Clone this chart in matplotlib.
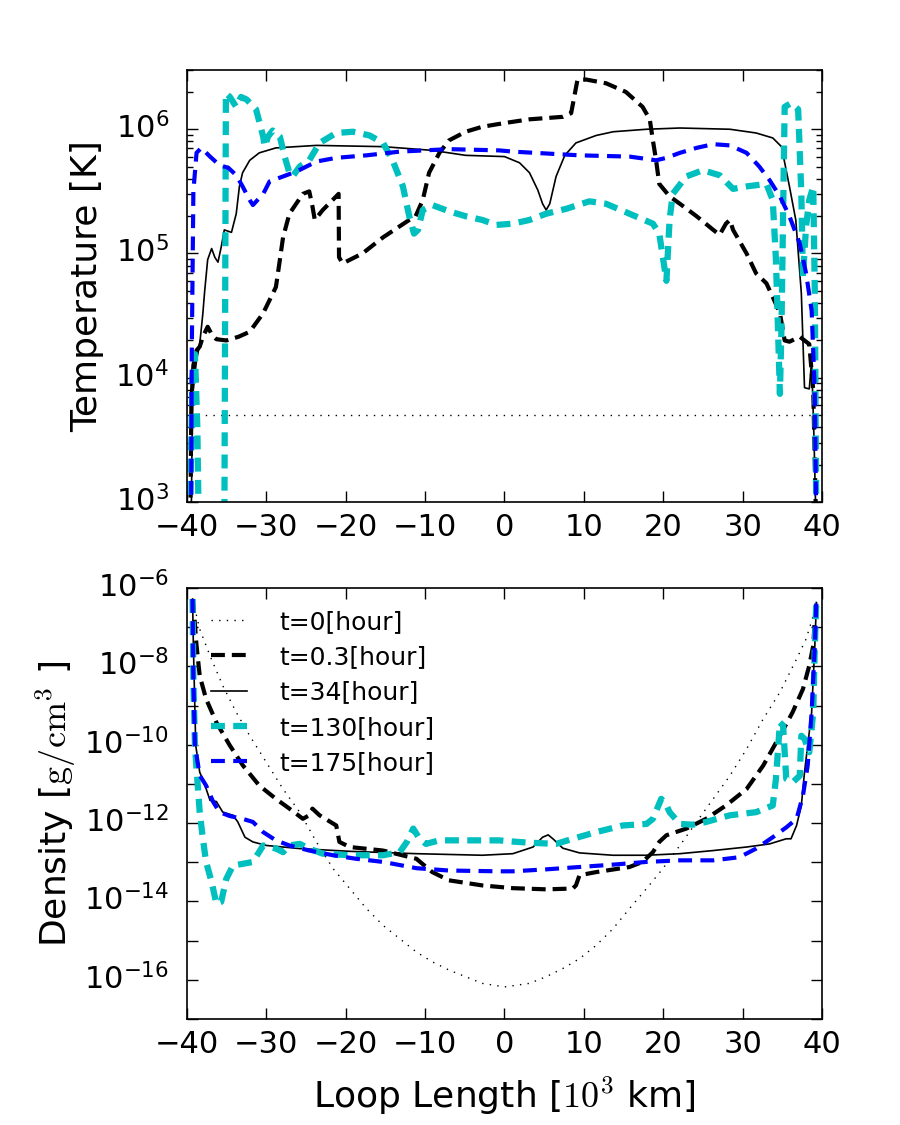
import matplotlib
matplotlib.use('Agg')
import matplotlib.pyplot as plt
import numpy as np
from matplotlib.ticker import FixedLocator, FuncFormatter, LogLocator, NullFormatter
from matplotlib.transforms import ScaledTranslation

plt.rcParams['font.family'] = ['DejaVu Sans']
plt.rcParams['mathtext.fontset'] = 'cm'
plt.rcParams['lines.scale_dashes'] = False

# temperature, log10(T [K]) vs loop position [10^3 km]
x_t0 = [-39.6, 39.6]
logT_t0 = [3.70, 3.70]

x_t03 = [-39.6, -39.45, -39.2, -38.8, -38.4, -38.0, -37.4, -36.8, -36.3, -35.05, -33.5, -32.1,
         -30.4, -28.8, -28.3, -27.9, -27.1, -25.4, -24.6, -24.2, -23.9, -22.9, -21.2, -20.9,
         -20.85, -20.4, -17.9, -15.3, -12.0, -11.2, -10.3, -9.5, -8.2, -7.0, -4.9, -2.8, 0.0,
         3.15, 7.35, 8.4, 9.2, 10.3, 12.8, 15.3, 17.4, 18.3, 18.7, 19.1, 19.5, 20.8, 22.1, 24.2,
         26.3, 27.1, 27.9, 28.4, 28.8, 30.5, 31.7, 33.0, 33.8, 34.7, 35.3, 35.9, 37.2, 37.8,
         38.4, 38.9, 39.3]
logT_t03 = [2.7, 3.8, 4.1, 4.22, 4.25, 4.33, 4.41, 4.34, 4.31, 4.30, 4.33, 4.37,
            4.52, 4.73, 4.95, 5.13, 5.32, 5.48, 5.50, 5.38, 5.27, 5.35, 5.46, 5.48,
            4.97, 4.92, 5.0, 5.13, 5.27, 5.30, 5.43, 5.65, 5.81, 5.91, 5.98, 6.02, 6.05,
            6.08, 6.10, 6.13, 6.40, 6.40, 6.37, 6.30, 6.18, 6.08, 5.91, 5.75, 5.56, 5.46, 5.40, 5.30,
            5.19, 5.15, 5.24, 5.27, 5.19, 5.0, 4.84, 4.76, 4.65, 4.52, 4.30, 4.29, 4.33, 4.30,
            4.27, 3.9, 2.7]

x_t34 = [-39.5, -39.3, -38.8, -38.4, -38.0, -37.8, -37.4, -36.9, -36.5, -36.1, -35.7, -35.3,
         -34.4, -33.8, -33.4, -33.0, -32.1, -30.9, -28.8, -23.7, -15.3, -9.1, -4.9, 0.0, 1.9,
         3.15, 4.2, 4.8, 5.25, 5.7, 6.5, 7.6, 9.0, 11.55, 13.7, 17.9, 22.1, 28.4, 31.7, 33.8,
         34.9, 35.9, 36.7, 37.4, 37.8, 38.4, 38.7, 39.0, 39.3]
logT_t34 = [2.7, 3.87, 4.14, 4.27, 4.52, 4.68, 4.95, 5.04, 4.97, 4.93, 5.05, 5.19,
            5.17, 5.32, 5.54, 5.65, 5.75, 5.81, 5.85, 5.87, 5.86, 5.83, 5.79, 5.78, 5.73,
            5.65, 5.51, 5.40, 5.35, 5.40, 5.62, 5.79, 5.89, 5.95, 5.98, 6.0, 6.01, 6.0, 5.97, 5.93,
            5.86, 5.54, 5.27, 4.68, 3.92, 3.91, 4.14, 3.5, 2.7]

x_t130 = [-39.7, -39.3, -39.0, -38.7, -38.5, -35.3, -35.1, -34.6, -33.8, -33.2, -32.5, -31.3,
          -30.4, -30.2, -29.8, -29.2, -28.3, -27.7, -27.1, -26.7, -25.8, -24.6, -23.3, -21.2,
          -19.1, -17.0, -15.3, -14.1, -12.8, -12.0, -11.4, -10.9, -10.3, -9.1, -7.0, -4.9, -2.8,
          -1.05, 1.05, 3.15, 5.25, 7.8, 10.7, 12.8, 15.75, 18.7, 19.5, 20.0, 20.4, 20.8, 21.2,
          22.9, 25.0, 27.1, 28.8, 30.5, 33.0, 33.8, 34.2, 34.7, 34.9, 35.2, 35.3, 36.1, 37.0,
          37.4, 37.6, 38.0, 38.4, 38.9, 39.1, 39.3]
logT_t130 = [2.7, 4.0, 4.19, 3.6, 2.7, 2.7, 6.29, 6.26, 6.18, 6.26, 6.24, 6.16,
             5.94, 5.86, 5.94, 5.99, 5.94, 5.78, 5.65, 5.62, 5.70, 5.75, 5.89, 5.97,
             5.98, 5.95, 5.89, 5.75, 5.54, 5.30, 5.16, 5.19, 5.35, 5.39, 5.34, 5.30, 5.27,
             5.23, 5.24, 5.27, 5.32, 5.36, 5.42, 5.40, 5.32, 5.24, 5.16, 4.95, 4.78, 5.27, 5.48,
             5.62, 5.67, 5.63, 5.52, 5.54, 5.56, 5.43, 4.95, 3.87, 4.41, 5.75, 6.18, 6.21, 6.16,
             5.48, 4.81, 5.22, 5.43, 5.54, 4.68, 2.7]

x_t175 = [-39.5, -39.4, -39.2, -38.8, -38.2, -37.1, -35.9, -34.8, -33.8, -33.0, -32.1, -31.7,
          -30.4, -29.6, -27.9, -26.2, -23.7, -21.2, -17.4, -13.2, -7.0, -0.7, 1.05, 9.45,
          15.75, 19.1, 20.4, 22.1, 24.2, 26.3, 28.4, 30.5, 32.1, 33.4, 34.7, 35.9, 37.2, 38.0,
          38.7, 39.1, 39.3]
logT_t175 = [2.7, 4.2, 5.5, 5.81, 5.85, 5.78, 5.71, 5.69, 5.63, 5.54, 5.43, 5.39,
             5.48, 5.58, 5.62, 5.66, 5.74, 5.77, 5.79, 5.82, 5.84, 5.83, 5.82, 5.79,
             5.78, 5.75, 5.77, 5.81, 5.85, 5.88, 5.87, 5.81, 5.70, 5.59, 5.46, 5.30, 5.08, 4.84,
             4.54, 3.87, 2.7]

# density, log10(rho [g/cm^3])
xd_t0 = [-39.3, -39.2, -38.4, -37.1, -35.5, -33.8, -32.1, -30.0, -27.9, -25.8, -23.7, -21.6,
         -19.5, -17.4, -15.3, -13.2, -11.1, -9.1, -7.0, -4.9, -2.8, 0.0, 3.15, 5.25, 7.35, 9.45,
         11.55, 13.65, 15.75, 17.9, 19.95, 22.1, 24.2, 26.3, 28.4, 30.5, 32.6, 34.7, 36.8, 38.0,
         38.9, 39.3]
logd_t0 = [-6.3, -6.37, -7.05, -7.73, -8.49, -9.17, -9.77, -10.45, -11.13, -11.72, -12.48, -13.16,
           -13.67, -14.18, -14.61, -14.95, -15.29, -15.54, -15.75, -15.92, -16.09, -16.18, -16.09,
           -15.92, -15.71, -15.46, -15.12, -14.70, -14.18, -13.67, -13.16, -12.57, -11.97, -11.38,
           -10.79, -10.11, -9.34, -8.66, -7.81, -7.30, -6.71, -6.37]

xd_t03 = [-39.25, -38.8, -38.4, -37.6, -36.3, -34.6, -32.95, -30.9, -28.8, -27.1, -25.4, -24.6,
          -24.2, -23.3, -21.2, -20.8, -19.5, -15.3, -11.1, -9.1, -7.0, -2.8, 1.05, 5.25, 8.6, 9.0,
          9.45, 11.55, 15.75, 17.4, 18.7, 19.5, 20.4, 22.9, 25.4, 27.9, 30.5, 32.6, 34.7, 36.3,
          37.6, 38.4, 38.9, 39.1, 39.3]
logd_t03 = [-6.28, -7.47, -8.24, -8.83, -9.43, -10.02, -10.53, -11.04, -11.38, -11.63, -11.89,
            -11.80, -11.63, -11.80, -12.06, -12.48, -12.61, -12.70, -12.91, -13.25, -13.46, -13.59,
            -13.66, -13.69, -13.67, -13.59, -13.33, -13.25, -13.12, -12.99, -12.74, -12.48, -12.31,
            -12.14, -11.89, -11.55, -11.13, -10.53, -9.77, -9.17, -8.58, -7.98, -7.47, -6.79, -6.3]

xd_t34 = [-39.3, -39.2, -39.0, -38.9, -38.4, -37.8, -37.1, -36.3, -35.5, -34.2, -33.6, -32.7,
          -31.7, -30.0, -25.8, -19.5, -11.1, -2.8, 1.05, 3.6, 4.8, 5.5, 6.1, 7.35, 9.45, 13.65,
          17.9, 22.1, 26.3, 30.5, 33.4, 35.5, 36.1, 36.8, 37.4, 37.8, 38.2, 38.7, 39.1, 39.3]
logd_t34 = [-6.28, -7.47, -9.17, -10.02, -10.70, -11.0, -11.42, -11.45, -11.72, -11.80, -11.97,
            -12.36, -12.48, -12.57, -12.65, -12.72, -12.78, -12.82, -12.78, -12.61, -12.36, -12.30,
            -12.40, -12.64, -12.76, -12.82, -12.82, -12.78, -12.70, -12.61, -12.53, -12.40, -12.40,
            -12.06, -11.55, -10.70, -10.02, -9.17, -7.47, -6.37]

xd_t130 = [-39.3, -39.2, -39.0, -38.8, -38.4, -38.0, -37.6, -36.9, -36.3, -35.7, -35.05, -34.2,
           -33.0, -31.7, -30.4, -28.8, -27.9, -27.1, -25.8, -24.6, -22.9, -19.5, -15.3, -13.2,
           -12.3, -11.5, -10.7, -9.9, -8.2, -4.9, -0.7, 1.05, 3.15, 6.5, 8.6, 11.55, 14.9, 17.9,
           18.7, 19.75, 20.4, 20.8, 22.1, 23.7, 25.4, 28.4, 31.7, 33.8, 34.2, 34.5, 34.7, 35.1,
           35.3, 35.5, 36.3, 37.2, 37.4, 37.8, 38.4, 38.9, 39.1, 39.3]
logd_t130 = [-6.28, -8.32, -10.02, -10.62, -11.72, -12.40, -12.99, -13.50, -14.06, -14.01, -13.42,
             -13.08, -13.04, -12.99, -12.57, -12.65, -12.74, -12.57, -12.53, -12.65, -12.78, -12.82,
             -12.82, -12.74, -12.48, -12.14, -12.40, -12.53, -12.44, -12.44, -12.44, -12.47, -12.50,
             -12.53, -12.40, -12.23, -12.06, -12.02, -11.89, -11.38, -11.55, -11.72, -12.02, -12.04,
             -11.97, -11.80, -11.72, -11.55, -10.87, -10.02, -9.43, -9.51, -10.19, -10.87, -10.96,
             -10.79, -9.77, -9.85, -10.19, -9.17, -7.47, -6.28]

xd_t175 = [-39.3, -39.2, -39.0, -38.4, -37.6, -36.7, -35.9, -34.6, -33.0, -31.7, -30.4, -28.8,
           -27.1, -24.6, -21.6, -18.7, -15.3, -11.1, -7.0, -0.7, 1.05, 5.25, 9.45, 13.65, 17.9,
           22.1, 26.3, 29.6, 31.7, 33.8, 35.5, 36.8, 37.6, 38.2, 38.7, 39.1, 39.3]
logd_t175 = [-6.28, -8.32, -10.02, -10.78, -11.04, -11.46, -11.72, -11.82, -11.89, -11.97, -12.23,
             -12.44, -12.57, -12.70, -12.82, -12.91, -12.99, -13.15, -13.21, -13.23, -13.23, -13.18,
             -13.12, -13.06, -12.99, -12.95, -12.95, -12.87, -12.65, -12.36, -12.11, -11.89, -11.30,
             -10.53, -9.17, -7.47, -6.28]

labels = ['t=0[hour]', 't=0.3[hour]', 't=34[hour]', 't=130[hour]', 't=175[hour]']
styles = [dict(color='k', lw=1.0, dashes=(1, 4.5)),
          dict(color='k', lw=3.0, dashes=(10, 5)),
          dict(color='k', lw=1.2, linestyle='-'),
          dict(color=(0, 0.75, 0.75), lw=4.5, dashes=(10, 6)),
          dict(color='b', lw=3.0, dashes=(10, 6))]

temp_data = [(x_t0, logT_t0), (x_t03, logT_t03), (x_t34, logT_t34),
             (x_t130, logT_t130), (x_t175, logT_t175)]
dens_data = [(xd_t0, logd_t0), (xd_t03, logd_t03), (xd_t34, logd_t34),
             (xd_t130, logd_t130), (xd_t175, logd_t175)]

fig = plt.figure(figsize=(9, 11.25), dpi=100)
ax1 = fig.add_axes([0.2078, 0.5538, 0.7055, 0.384])
ax2 = fig.add_axes([0.2078, 0.0942, 0.7055, 0.3831])

for (xs, ys), lab, st in zip(temp_data, labels, styles):
    ax1.plot(xs, 10 ** np.array(ys), label=lab, **st)
for (xs, ys), lab, st in zip(dens_data, labels, styles):
    ax2.plot(xs, 10 ** np.array(ys), label=lab, **st)

def sci_label(v, pos):
    e = int(round(np.log10(v)))
    return r'$\mathdefault{10^{%d}}$' % e

for ax in (ax1, ax2):
    ax.set_yscale('log')
    ax.set_xlim(-40, 40)
    ax.set_xticks(np.arange(-40, 41, 10))
    ax.tick_params(which='both', direction='in', top=True, right=True, width=1)
    ax.tick_params(which='major', length=8, labelsize=22)
    ax.tick_params(which='minor', length=4)
    ax.tick_params(axis='x', pad=8)
    ax.tick_params(axis='y', pad=13)
    for sp in ax.spines.values():
        sp.set_linewidth(1.2)

ax1.set_ylim(1e3, 3e6)
ax1.yaxis.set_major_locator(FixedLocator([1e3, 1e4, 1e5, 1e6]))
ax1.yaxis.set_major_formatter(FuncFormatter(sci_label))
ax1.yaxis.set_minor_locator(LogLocator(base=10, subs=np.arange(2, 10)))
ax1.yaxis.set_minor_formatter(NullFormatter())
ax1.set_ylabel('Temperature [K]', fontsize=26)
ax1.yaxis.set_label_coords(-0.131, 0.5)

ax2.set_ylim(1e-17, 1e-6)
ax2.yaxis.set_major_locator(FixedLocator([10.0 ** e for e in range(-17, -5)]))
ax2.yaxis.set_major_formatter(FuncFormatter(
    lambda v, p: sci_label(v, p) if int(round(np.log10(v))) % 2 == 0 else ''))
ax2.yaxis.set_minor_locator(FixedLocator([]))
ax2.set_ylabel(r'Density [$\mathrm{g/cm^3}$ ]', fontsize=26)
ax2.yaxis.set_label_coords(-0.172, 0.5)
ax2.set_xlabel(r'Loop Length [$10^3$ km]', fontsize=26, labelpad=11)

# center the "10" (not the superscript) on each tick
shift = ScaledTranslation(0, 4 / 100, fig.dpi_scale_trans)
for ax in (ax1, ax2):
    for lab in ax.get_yticklabels():
        lab.set_transform(lab.get_transform() + shift)

ax2.legend(loc='upper left', bbox_to_anchor=(0.01, 0.99), frameon=False, fontsize=18,
           handlelength=1.45, handletextpad=1.3, labelspacing=0.45, borderaxespad=0.3)

fig.savefig('out.png', dpi=100)
